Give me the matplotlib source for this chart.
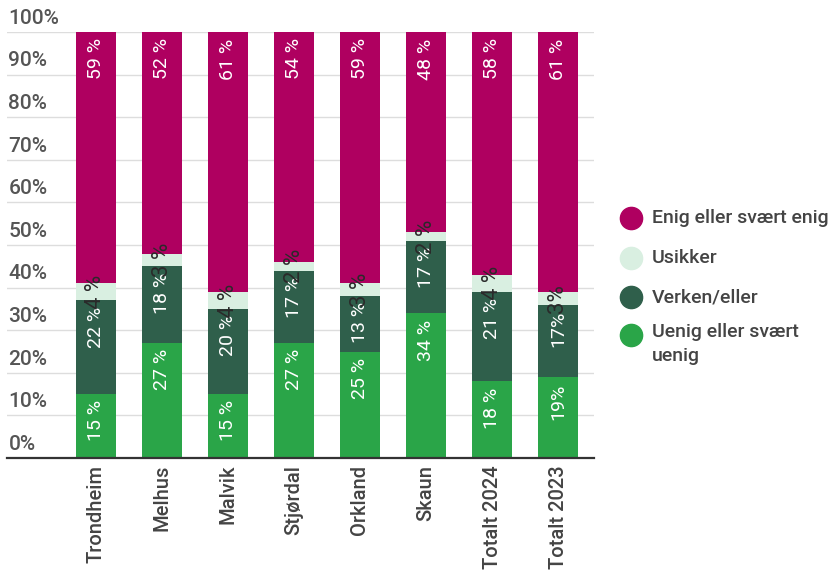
import matplotlib
matplotlib.use("Agg")
import matplotlib.pyplot as plt
from matplotlib.transforms import offset_copy, blended_transform_factory

plt.rcParams['font.family'] = ['Roboto', 'DejaVu Sans']

categories = ["Trondheim", "Melhus", "Malvik", "Stjørdal", "Orkland", "Skaun", "Totalt 2024", "Totalt 2023"]
series_names = ["Uenig eller svært uenig", "Verken/eller", "Usikker", "Enig eller svært enig"]
uenig = [15, 27, 15, 27, 25, 34, 18, 19]
verken = [22, 18, 20, 17, 13, 17, 21, 17]
usikker = [4, 3, 4, 2, 3, 2, 4, 3]
enig = [59, 52, 61, 54, 59, 48, 58, 61]
uenig_labels = ["15 %", "27 %", "15 %", "27 %", "25 %", "34 %", "18 %", "19%"]
verken_labels = ["22 %", "18 %", "20 %", "17 %", "13 %", "17 %", "21 %", "17%"]
usikker_labels = ["4 %", "3 %", "4 %", "2 %", "3 %", "2 %", "4 %", "3%"]
enig_labels = ["59 %", "52 %", "61 %", "54 %", "59 %", "48 %", "58 %", "61 %"]
colors = ["#2aa548", "#2f5f4b", "#d9efe1", "#af0060"]
yticks = [0, 10, 20, 30, 40, 50, 60, 70, 80, 90, 100]

W, H = 832, 571
fig = plt.figure(figsize=(W / 100, H / 100), dpi=100)
left_px, right_px, top_px, bottom_px = 7, 594, 32, 458
ax = fig.add_axes([left_px / W, 1 - bottom_px / H, (right_px - left_px) / W, (bottom_px - top_px) / H])

x = list(range(len(categories)))
bar_w = 40 / 66
ax.set_xlim((left_px - 96) / 66, (right_px - 96) / 66)
ax.set_ylim(0, 100)

data = [uenig, verken, usikker, enig]
labels = [uenig_labels, verken_labels, usikker_labels, enig_labels]
bottoms = [0] * len(categories)
for k, (vals, labs, col) in enumerate(zip(data, labels, colors)):
    ax.bar(x, vals, bar_w, bottom=bottoms, color=col, zorder=2, linewidth=0)
    for i in range(len(categories)):
        top = bottoms[i] + vals[i]
        if k == 2:
            ax.text(x[i], bottoms[i] + vals[i] / 2, labs[i], rotation=90, ha='center', va='center',
                    fontsize=16, color='#2a2a2a', zorder=4)
        else:
            tr = offset_copy(ax.transData, fig=fig, x=0, y=-4.5, units='points')
            ax.text(x[i], min(top, 100), labs[i], rotation=90, ha='center', va='top',
                    fontsize=14, color='white', transform=tr, zorder=3)
    bottoms = [b + v for b, v in zip(bottoms, vals)]

# gridlines and y labels
for yt in yticks[1:]:
    ax.axhline(yt, color='#dddddd', lw=1, zorder=1)
ax.set_yticks([])
btr = blended_transform_factory(ax.transAxes, ax.transData)
for yt in yticks:
    tr = offset_copy(btr, fig=fig, x=1, y=3, units='points')
    ax.text(0, yt, f"{yt}%", ha='left', va='bottom', fontsize=15, fontweight='medium',
            color='#555555', transform=tr)

for s in ['top', 'right', 'left']:
    ax.spines[s].set_visible(False)
ax.spines['bottom'].set_color('#333333')
ax.spines['bottom'].set_linewidth(1.6)
ax.spines['bottom'].set_zorder(5)
ax.set_xticks(x)
ax.set_xticklabels(categories, rotation=90, fontsize=14.5, fontweight='medium', color='#444444', va='top')
ax.tick_params(axis='x', length=0, pad=5)

# legend
leg_y = [218, 258, 297, 335]
leg_text = ["Enig eller svært enig", "Usikker", "Verken/eller", "Uenig eller svært\nuenig"]
leg_cols = [colors[3], colors[2], colors[1], colors[0]]
for yy, t, c in zip(leg_y, leg_text, leg_cols):
    fig.lines.append(plt.Line2D([631 / W], [1 - yy / H], marker='o', markersize=16, color=c,
                                transform=fig.transFigure, linestyle='none'))
    fig.text(652 / W, 1 - yy / H, t, ha='left', va='top' if '\n' in t else 'center',
             fontsize=14, fontweight='medium', color='#444444', linespacing=1.45,
             transform=offset_copy(fig.transFigure, fig=fig, x=0, y=(8.5 if '\n' in t else 0), units='points'))

fig.savefig("out.png", dpi=100)
